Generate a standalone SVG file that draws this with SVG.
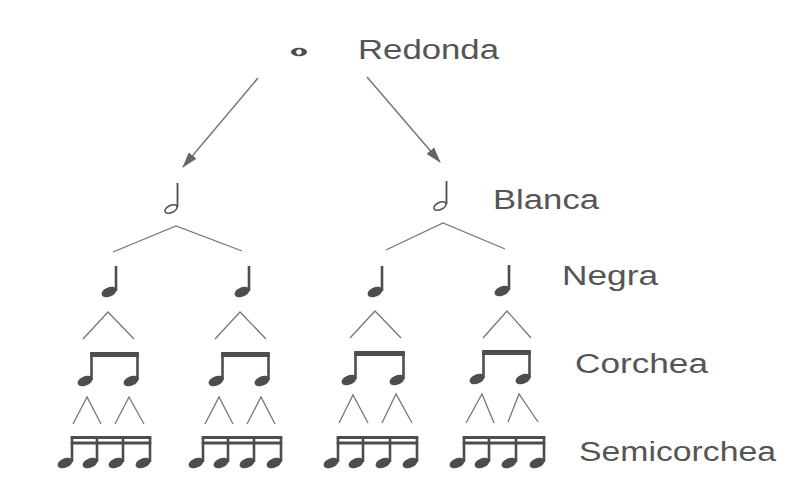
<svg xmlns="http://www.w3.org/2000/svg" xmlns:xlink="http://www.w3.org/1999/xlink" width="793" height="493" viewBox="0 0 793 493">
<style>
.lbl{font-family:"Liberation Sans",Arial,sans-serif;font-size:27px;fill:#555;}
.ln{stroke:#777;stroke-width:1.3;fill:none;}
.ar{stroke:#777;stroke-width:1.5;fill:none;}
.stem{stroke:#4d4d4d;stroke-width:2.6;}
.beam{fill:#4d4d4d;}
.note{fill:#4d4d4d;}
</style>
<defs>
<ellipse id="h" rx="7.8" ry="4.7" transform="rotate(-22)"/>
<ellipse id="hh" rx="6.5" ry="3.6" transform="rotate(-25)" fill="none" stroke="#4d4d4d" stroke-width="1.6"/>
<marker id="arr" viewBox="0 0 16 10" refX="15" refY="5" markerWidth="16" markerHeight="10" markerUnits="userSpaceOnUse" orient="auto">
<path d="M0,0 L16,5 L0,10 Z" fill="#666"/>
</marker>
</defs>
<rect width="793" height="493" fill="#fff"/>

<g id="connectors">
<line class="ar" x1="258" y1="78" x2="183" y2="167" marker-end="url(#arr)"/>
<line class="ar" x1="367" y1="77" x2="440" y2="162" marker-end="url(#arr)"/>
<polyline class="ln" points="113,252 176,226 242,251"/>
<polyline class="ln" points="386,250 443,223 505,249"/>
<polyline class="ln" points="83,339 108,312 134,339"/>
<polyline class="ln" points="215,339 240,312 266,339"/>
<polyline class="ln" points="350,338 375,311 401,338"/>
<polyline class="ln" points="483,338 507,311 531,338"/>
<polyline class="ln" points="73,424 87,397 101,424"/>
<polyline class="ln" points="115,424 129,397 144,424"/>
<polyline class="ln" points="205,424 219,397 233,424"/>
<polyline class="ln" points="247,424 261,397 275,424"/>
<polyline class="ln" points="339,423 353,395 368,423"/>
<polyline class="ln" points="382,423 396,394 412,423"/>
<polyline class="ln" points="466,423 482,394 494,423"/>
<polyline class="ln" points="508,422 519,394 538,422"/>
</g>

<g id="redonda">
<ellipse cx="299" cy="52" rx="8" ry="4.2" fill="#4d4d4d"/>
<ellipse cx="299" cy="52" rx="2.8" ry="2.6" fill="#fff" transform="rotate(-30 299 52)"/>
<text class="lbl" x="358" y="59" textLength="141" lengthAdjust="spacingAndGlyphs">Redonda</text>
</g>

<g id="blanca">
<use xlink:href="#hh" x="171" y="209"/>
<line class="stem" x1="177.5" y1="183" x2="177.5" y2="207" style="stroke-width:1.8"/>
<use xlink:href="#hh" x="440" y="206"/>
<line class="stem" x1="446.5" y1="181" x2="446.5" y2="204" style="stroke-width:1.8"/>
<text class="lbl" x="493" y="209" textLength="106" lengthAdjust="spacingAndGlyphs">Blanca</text>
</g>

<g id="negra" class="note">
<use xlink:href="#h" x="109" y="292"/>
<line class="stem" x1="116" y1="266" x2="116" y2="291"/>
<use xlink:href="#h" x="242" y="292"/>
<line class="stem" x1="249" y1="266" x2="249" y2="291"/>
<use xlink:href="#h" x="375" y="292"/>
<line class="stem" x1="382" y1="266" x2="382" y2="291"/>
<use xlink:href="#h" x="502" y="291"/>
<line class="stem" x1="509" y1="265" x2="509" y2="290"/>
<text class="lbl" x="562" y="285" textLength="96" lengthAdjust="spacingAndGlyphs">Negra</text>
</g>

<g id="corchea" class="note">
<use xlink:href="#h" x="85" y="381"/>
<use xlink:href="#h" x="131" y="381"/>
<line class="stem" x1="91.5" y1="353" x2="91.5" y2="380"/>
<line class="stem" x1="137.5" y1="353" x2="137.5" y2="380"/>
<rect class="beam" x="90.2" y="352" width="48.6" height="5"/>

<use xlink:href="#h" x="216" y="381"/>
<use xlink:href="#h" x="262" y="381"/>
<line class="stem" x1="222.5" y1="353" x2="222.5" y2="380"/>
<line class="stem" x1="268.5" y1="353" x2="268.5" y2="380"/>
<rect class="beam" x="221.2" y="352" width="48.6" height="5"/>

<use xlink:href="#h" x="349" y="380"/>
<use xlink:href="#h" x="397" y="380"/>
<line class="stem" x1="355.5" y1="352" x2="355.5" y2="379"/>
<line class="stem" x1="403.5" y1="352" x2="403.5" y2="379"/>
<rect class="beam" x="354.2" y="351" width="50.6" height="5"/>

<use xlink:href="#h" x="477" y="379"/>
<use xlink:href="#h" x="523" y="379"/>
<line class="stem" x1="483.5" y1="351" x2="483.5" y2="378"/>
<line class="stem" x1="529.5" y1="351" x2="529.5" y2="378"/>
<rect class="beam" x="482.2" y="350" width="48.6" height="5"/>
<text class="lbl" x="575" y="373" textLength="133" lengthAdjust="spacingAndGlyphs">Corchea</text>
</g>

<g id="semicorchea" class="note">
<use xlink:href="#h" x="65" y="463"/>
<use xlink:href="#h" x="90" y="463"/>
<use xlink:href="#h" x="116" y="463"/>
<use xlink:href="#h" x="143" y="463"/>
<line class="stem" x1="72" y1="437" x2="72" y2="462"/>
<line class="stem" x1="97" y1="437" x2="97" y2="462"/>
<line class="stem" x1="123" y1="437" x2="123" y2="462"/>
<line class="stem" x1="150" y1="437" x2="150" y2="462"/>
<rect class="beam" x="70.7" y="436" width="80.6" height="3"/>
<rect class="beam" x="70.7" y="441.5" width="80.6" height="3"/>

<use xlink:href="#h" x="196" y="463"/>
<use xlink:href="#h" x="221" y="463"/>
<use xlink:href="#h" x="247" y="463"/>
<use xlink:href="#h" x="274" y="463"/>
<line class="stem" x1="203" y1="437" x2="203" y2="462"/>
<line class="stem" x1="228" y1="437" x2="228" y2="462"/>
<line class="stem" x1="254" y1="437" x2="254" y2="462"/>
<line class="stem" x1="281" y1="437" x2="281" y2="462"/>
<rect class="beam" x="201.7" y="436" width="80.6" height="3"/>
<rect class="beam" x="201.7" y="441.5" width="80.6" height="3"/>

<use xlink:href="#h" x="331" y="463"/>
<use xlink:href="#h" x="356" y="463"/>
<use xlink:href="#h" x="383" y="463"/>
<use xlink:href="#h" x="410" y="463"/>
<line class="stem" x1="338" y1="437" x2="338" y2="462"/>
<line class="stem" x1="363" y1="437" x2="363" y2="462"/>
<line class="stem" x1="390" y1="437" x2="390" y2="462"/>
<line class="stem" x1="417" y1="437" x2="417" y2="462"/>
<rect class="beam" x="336.7" y="436" width="81.6" height="3"/>
<rect class="beam" x="336.7" y="441.5" width="81.6" height="3"/>

<use xlink:href="#h" x="457" y="463"/>
<use xlink:href="#h" x="482" y="463"/>
<use xlink:href="#h" x="509" y="463"/>
<use xlink:href="#h" x="537" y="463"/>
<line class="stem" x1="464" y1="437" x2="464" y2="462"/>
<line class="stem" x1="489" y1="437" x2="489" y2="462"/>
<line class="stem" x1="516" y1="437" x2="516" y2="462"/>
<line class="stem" x1="544" y1="437" x2="544" y2="462"/>
<rect class="beam" x="462.7" y="436" width="82.6" height="3"/>
<rect class="beam" x="462.7" y="441.5" width="82.6" height="3"/>
<text class="lbl" x="579" y="461" textLength="197" lengthAdjust="spacingAndGlyphs">Semicorchea</text>
</g>
</svg>
